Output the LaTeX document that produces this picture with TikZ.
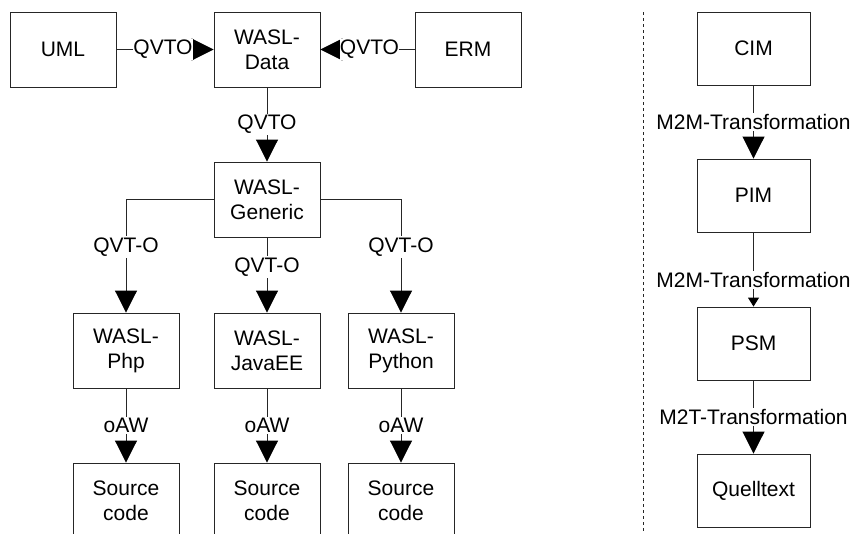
\documentclass[tikz,border=0pt]{standalone}
\usepackage{fontspec}
\setmainfont{Liberation Sans}
\usetikzlibrary{arrows.meta}

\tikzset{
  mbox/.style={draw=black!85, line width=0.9pt, minimum width=106pt,
    minimum height=75pt, inner sep=0pt, align=center,
    font=\fontsize{21}{25}\selectfont},
  tlabel/.style={fill=white, inner sep=1.5pt, font=\fontsize{21}{25}\selectfont},
  tarrow/.style={draw=black!85, line width=0.9pt,
    -{Triangle[width=22pt,length=22pt,color=black,fill=black]}},
}

\begin{document}
\begin{tikzpicture}[x=1pt,y=-1pt]
  \clip (0,0) rectangle (856,533);
  % linke Seite: Modelle der WASL-Kette
  \node[mbox] (uml) at (63,49.5) {UML};
  \node[mbox] (data) at (267,49.5) {WASL-\\Data};
  \node[mbox] (erm) at (468,49.5) {ERM};
  \node[mbox] (generic) at (267,199.5) {WASL-\\Generic};
  \node[mbox] (php) at (126,350.5) {WASL-\\Php};
  \node[mbox] (java) at (267,350.5) {WASL-\\JavaEE};
  \node[mbox] (python) at (401,350.5) {WASL-\\Python};
  \node[mbox] (srcphp) at (126,500.5) {Source\\code};
  \node[mbox] (srcjava) at (267,500.5) {Source\\code};
  \node[mbox] (srcpython) at (401,500.5) {Source\\code};
  % Transformationen links
  \draw[tarrow] (uml) -- (data)
    node[tlabel,midway,inner xsep=0pt,xshift=-2pt] {QVTO};
  \draw[tarrow] (erm) -- (data)
    node[tlabel,midway,inner xsep=0pt,xshift=2pt] {QVTO};
  \draw[tarrow] (data) -- (generic) node[tlabel,midway] {QVTO};
  \draw[tarrow] (generic.west) -| (php.north) node[tlabel,pos=0.71] {QVT-O};
  \draw[tarrow] (generic) -- (java) node[tlabel,pos=0.39] {QVT-O};
  \draw[tarrow] (generic.east) -| (python.north) node[tlabel,pos=0.71] {QVT-O};
  \draw[tarrow] (php) -- (srcphp) node[tlabel,midway] {oAW};
  \draw[tarrow] (java) -- (srcjava) node[tlabel,midway] {oAW};
  \draw[tarrow] (python) -- (srcpython) node[tlabel,midway] {oAW};
  % Trennlinie
  \coordinate (sepTop) at (643,12);
  \coordinate (sepBot) at (643,533);
  \draw[dashed, black!85, line width=0.9pt] (sepTop) -- (sepBot);
  % rechte Seite: MDA-Ebenen
  \node[mbox, minimum width=113pt, minimum height=73pt] (cim) at (753.5,48.5) {CIM};
  \node[mbox, minimum width=113pt, minimum height=73pt] (pim) at (753.5,195.5) {PIM};
  \node[mbox, minimum width=113pt, minimum height=73pt] (psm) at (753.5,343.5) {PSM};
  \node[mbox, minimum width=113pt, minimum height=73pt] (qt) at (753.5,490.5) {Quelltext};
  \draw[tarrow] (cim) -- (pim) node[tlabel,midway] {M2M-Transformation};
  \draw[draw=black!85, line width=0.9pt,
    -{Triangle[width=11pt,length=9pt,color=black,fill=black]}]
    (pim) -- (psm) node[tlabel,pos=0.64] {M2M-Transformation};
  \draw[tarrow] (psm) -- (qt) node[tlabel,midway] {M2T-Transformation};
\end{tikzpicture}
\end{document}
